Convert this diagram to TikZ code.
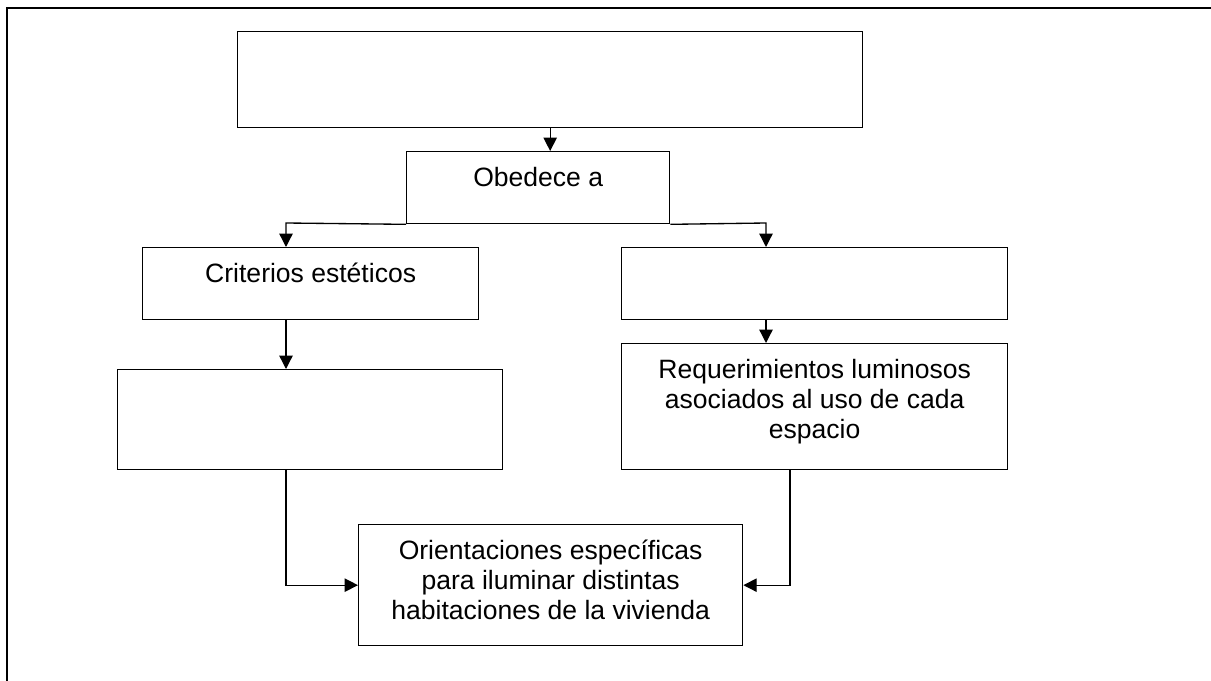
\documentclass[tikz,border=0pt]{standalone}
\usepackage{fontspec}
\setmainfont{Liberation Sans}
\usetikzlibrary{arrows.meta,positioning}
\newlength\pxunit
\setlength\pxunit{0.75pt}

\begin{document}
\begin{tikzpicture}[x=0.75pt, y=-0.75pt,
  box/.style={draw=black, line width=1pt, inner sep=0, anchor=north west},
  txt/.style={anchor=north, inner sep=0, align=center, font=\fontsize{19.9}{22.5}\selectfont},
  line/.style={-{Triangle[length=10pt,width=10pt]}, draw=black, line width=1pt}]

  \useasboundingbox (0,0) rectangle (1211,681);
  \draw[line width=1.6pt] (7,681) |- (1211,8);

  \node[box, minimum width=625\pxunit, minimum height=96\pxunit]  (boxTop)       at (237,31)  {};
  \node[box, minimum width=263\pxunit, minimum height=72\pxunit]  (boxObedece)   at (406,151) {};
  \node[box, minimum width=336\pxunit, minimum height=72\pxunit]  (boxCriterios) at (142,247) {};
  \node[box, minimum width=386\pxunit, minimum height=72\pxunit]  (boxRight)     at (621,247) {};
  \node[box, minimum width=385\pxunit, minimum height=100\pxunit] (boxLower)     at (117,369) {};
  \node[box, minimum width=386\pxunit, minimum height=126\pxunit] (boxRequer)    at (621,343) {};
  \node[box, minimum width=384\pxunit, minimum height=121\pxunit] (boxOrient)    at (358,524) {};

  \node[txt] at ([yshift=-16\pxunit]boxObedece.north)   {Obedece a};
  \node[txt] at ([yshift=-16\pxunit]boxCriterios.north) {Criterios estéticos};
  \node[txt] at ([yshift=-16\pxunit]boxRequer.north)    {Requerimientos luminosos\\asociados al uso de cada\\espacio};
  \node[txt] at ([yshift=-16\pxunit]boxOrient.north)    {Orientaciones específicas\\para iluminar distintas\\habitaciones de la vivienda};

  \coordinate (forkL) at (286,223);
  \coordinate (forkR) at (766,223);
  \coordinate (dropR) at (790,469);

  \draw [line] (boxTop.south) -- (boxTop.south |- boxObedece.north);
  \draw [line] (boxObedece.south west) -- (forkL) -- (forkL |- boxCriterios.north);
  \draw [line] (boxObedece.south east) -- (forkR) -- (forkR |- boxRight.north);
  \draw [line] (forkL |- boxCriterios.south) -- (forkL |- boxLower.north);
  \draw [line] (forkR |- boxRight.south) -- (forkR |- boxRequer.north);
  \draw [line] (forkL |- boxLower.south) |- (boxOrient.west);
  \draw [line] (dropR) |- (boxOrient.east);
\end{tikzpicture}
\end{document}
